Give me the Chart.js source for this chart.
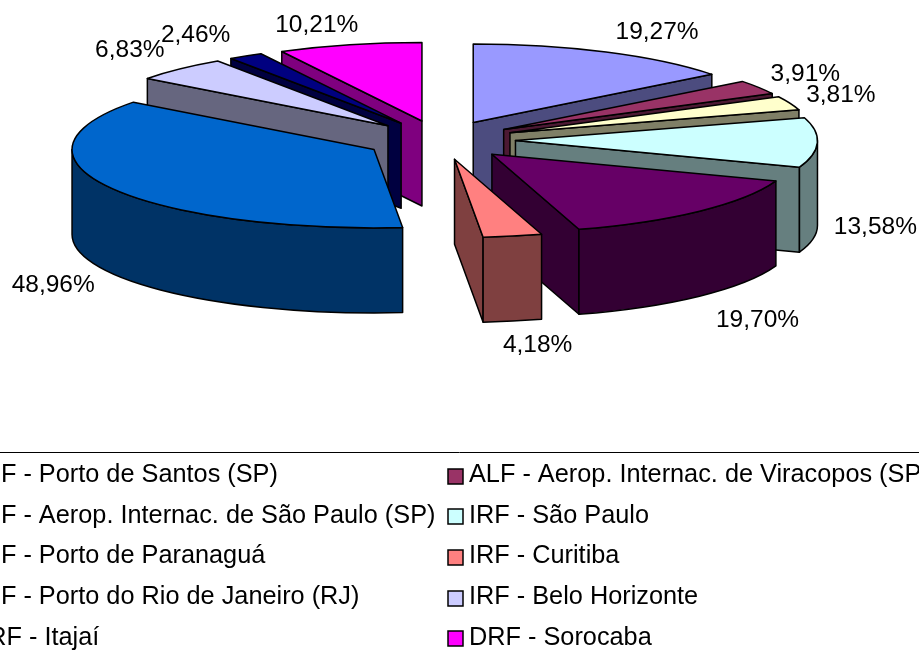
<!DOCTYPE html>
<html><head><meta charset="utf-8">
<style>html,body{margin:0;padding:0;background:#fff;overflow:hidden}canvas{display:block}</style>
<script src="https://cdn.jsdelivr.net/npm/chart.js@4"></script>
</head><body>
<div style="width:919px;height:650px"><canvas id="c" width="919" height="650"></canvas></div>
<script>
const categories = ["ALF - Porto de Santos (SP)","ALF - Aerop. Internac. de Viracopos (SP)","ALF - Aerop. Internac. de São Paulo (SP)","IRF - São Paulo","ALF - Porto de Paranaguá","IRF - Curitiba","ALF - Porto do Rio de Janeiro (RJ)","IRF - Belo Horizonte","DRF - Itajaí","DRF - Sorocaba"];
const values = [19.27,3.91,3.81,13.58,19.70,4.18,48.96,6.83,2.46,10.21];
const colors = ["#9999FF","#993366","#FFFFCC","#CCFFFF","#660066","#FF8080","#0066CC","#CCCCFF","#000080","#FF00FF"];
const labelNudges = [[51,-20],[47,-13],[51,-8],[58,85],[58,109],[25,109],[-57,98],[-50,-19],[-50,-21],[-33,-20]];

const view = {cx:440, cy:140, rx:302, ry:78.4, depth:85, explode:0.25};
const font = '"Liberation Sans", Arial, sans-serif';
const halve = hex => { const n=parseInt(hex.slice(1),16); return `rgb(${(n>>16)>>1},${((n>>8)&255)>>1},${(n&255)>>1})`; };

function geom(arc){
  const mid=(arc.startAngle+arc.endAngle)/2, k=view.explode;
  return {mid, ax:view.cx+Math.cos(mid)*k*view.rx, ay:view.cy+Math.sin(mid)*k*view.ry};
}
function drawSlice(ctx,arc,i){
  const g=geom(arc), s=arc.startAngle, t=arc.endAngle, d=view.depth;
  const pt=a=>[g.ax+Math.cos(a)*view.rx, g.ay+Math.sin(a)*view.ry];
  ctx.save();
  ctx.lineWidth=1.5; ctx.strokeStyle='#000'; ctx.lineJoin='round';
  ctx.fillStyle=halve(colors[i]);
  const face=a=>{const p=pt(a);ctx.beginPath();ctx.moveTo(g.ax,g.ay);ctx.lineTo(p[0],p[1]);ctx.lineTo(p[0],p[1]+d);ctx.lineTo(g.ax,g.ay+d);ctx.closePath();ctx.fill();ctx.stroke();};
  if(Math.cos(s)<0) face(s);
  if(Math.cos(t)>0) face(t);
  const a0=Math.max(s,0), a1=Math.min(t,Math.PI);
  if(a1>a0){
    ctx.beginPath();
    ctx.ellipse(g.ax,g.ay,view.rx,view.ry,0,a0,a1);
    ctx.ellipse(g.ax,g.ay+d,view.rx,view.ry,0,a1,a0,true);
    ctx.closePath();ctx.fill();ctx.stroke();
  }
  ctx.restore();
  // top face: the library's own arc element, projected onto the ellipse
  ctx.save();
  ctx.translate(g.ax,g.ay);
  ctx.scale(view.rx/arc.outerRadius,view.ry/arc.outerRadius);
  ctx.translate(-arc.x,-arc.y);
  arc.draw(ctx);
  ctx.restore();
  ctx.save();
  ctx.lineWidth=1.5; ctx.strokeStyle='#000'; ctx.lineJoin='round';
  ctx.beginPath();ctx.moveTo(g.ax,g.ay);
  ctx.ellipse(g.ax,g.ay,view.rx,view.ry,0,s,t);
  ctx.closePath();ctx.stroke();
  ctx.restore();
}
const pie3d = {
  id:'pie3d',
  beforeDatasetDraw(chart,args){
    const ctx=chart.ctx, arcs=chart.getDatasetMeta(args.index).data;
    arcs.map((a,i)=>({a,i})).sort((p,q)=>Math.sin(geom(p.a).mid)-Math.sin(geom(q.a).mid))
      .forEach(({a,i})=>drawSlice(ctx,a,i));
    return false;
  },
  afterDraw(chart){
    const ctx=chart.ctx, arcs=chart.getDatasetMeta(0).data;
    ctx.save();
    ctx.fillStyle='#000';ctx.textBaseline='middle';ctx.textAlign='center';ctx.font='24.5px '+font;
    arcs.forEach((arc,i)=>{
      const g=geom(arc);
      const x=g.ax+Math.cos(g.mid)*view.rx+labelNudges[i][0], y=g.ay+Math.sin(g.mid)*view.ry+labelNudges[i][1];
      ctx.fillText(values[i].toFixed(2).replace('.',',')+'%',x,y);
    });
    // legend
    ctx.strokeStyle='#000';ctx.lineWidth=1;ctx.beginPath();ctx.moveTo(0,452.5);ctx.lineTo(919,452.5);ctx.stroke();
    ctx.textAlign='left';ctx.textBaseline='alphabetic';ctx.font='25.3px '+font;
    categories.forEach((name,i)=>{
      const col=i%2, row=(i-col)/2, base=482+row*40.7;
      const tx=col?469:-30, bx=tx-21, by=Math.round(base-13.5);
      ctx.fillStyle=colors[i];ctx.fillRect(bx,by,15,15);
      ctx.strokeStyle='#000';ctx.lineWidth=1.5;ctx.strokeRect(bx,by,15,15);
      ctx.fillStyle='#000';ctx.fillText(name,tx,base);
    });
    ctx.restore();
  }
};
new Chart(document.getElementById('c'),{
  type:'pie',
  data:{labels:categories,datasets:[{data:values,backgroundColor:colors,borderWidth:0,hoverOffset:0}]},
  options:{responsive:false,animation:false,events:[],layout:{padding:0},plugins:{legend:{display:false},tooltip:{enabled:false}}},
  plugins:[pie3d]
});
</script>
</body></html>
